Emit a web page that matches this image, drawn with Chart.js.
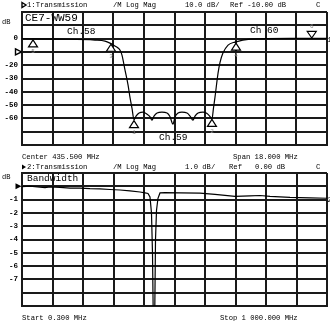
<!DOCTYPE html>
<html>
<head>
<meta charset="utf-8">
<script src="https://cdn.jsdelivr.net/npm/chart.js@4.4.1/dist/chart.umd.min.js"></script>
<style>
  html, body { margin: 0; padding: 0; background: #fff; }
  #wrap { position: relative; width: 330px; height: 321px; overflow: hidden; font-family: 'Liberation Mono', monospace; color: #000; }
  canvas { position: absolute; left: 0; }
  .t { position: absolute; font-size: 7.2px; line-height: 8px; white-space: pre; }
  .big { font-size: 9.5px; line-height: 10px; }
</style>
</head>
<body>
<div id="wrap">
  <canvas id="top" width="330" height="160" style="top:0"></canvas>
  <canvas id="bot" width="330" height="161" style="top:160px"></canvas>

  <div class="t" style="left:27px;top:1px">1:Transmission</div>
  <div class="t" style="left:113px;top:1px">/M Log Mag</div>
  <div class="t" style="left:185px;top:1px">10.0 dB/</div>
  <div class="t" style="left:230px;top:1px">Ref -10.00 dB</div>
  <div class="t" style="left:316px;top:1px">C</div>
  <div class="t" style="left:22px;top:153px">Center 435.500 MHz</div>
  <div class="t" style="left:233px;top:153px">Span 18.000 MHz</div>

  <div class="t big" style="left:25px;top:12px;font-size:11px;line-height:12px">CE7-WW59</div>
  <div class="t big" style="left:67px;top:27px">Ch.58</div>
  <div class="t big" style="left:250px;top:26px">Ch 60</div>
  <div class="t big" style="left:159px;top:133px">Ch.59</div>

  <div class="t" style="left:27px;top:163px">2:Transmission</div>
  <div class="t" style="left:113px;top:163px">/M Log Mag</div>
  <div class="t" style="left:185px;top:163px">1.0 dB/</div>
  <div class="t" style="left:229px;top:163px">Ref   0.00 dB</div>
  <div class="t" style="left:316px;top:163px">C</div>
  <div class="t big" style="left:27px;top:174px">Bandwidth</div>
  <div class="t" style="left:22px;top:314px">Start 0.300 MHz</div>
  <div class="t" style="left:220px;top:314px">Stop 1 000.000 MHz</div>
</div>

<script>
// channel 1: filter response around Ch.59 (MHz, dB)
const topFreq = [426.50, 428.74, 430.81, 431.40, 431.69, 431.99, 432.17, 432.28, 432.40, 432.58,
  432.76, 432.87, 432.99, 433.11, 433.23, 433.41, 433.64, 433.88, 434.05, 434.17,
  434.29, 434.47, 434.76, 435.06, 435.23, 435.41, 435.53, 435.71, 435.94, 436.24,
  436.42, 436.59, 436.71, 436.89, 437.18, 437.42, 437.60, 437.71, 437.80, 437.89,
  438.07, 438.19, 438.36, 438.66, 439.07, 439.96, 442.32, 444.50];
const topDb = [-0.1, -0.4, -1.1, -1.9, -3.4, -5.6, -7.1, -8.6, -12.4, -23.7,
  -35, -44, -52.3, -60.9, -58.3, -56, -55.3, -56.8, -58.6, -61.3,
  -58.3, -56, -55.3, -56, -58.6, -64.3, -59, -56, -55.3, -56,
  -58.3, -61.3, -58.3, -56, -55.3, -56.3, -58.6, -60.5, -52.3, -44,
  -25.9, -17.7, -10.9, -4.9, -2.6, -0.4, 0.1, 0.1];

// channel 1 markers
const topMarkerNo = [1, 2, 3, 4, 5, 6];
const topMarkerFreq = [433.11, 437.71, 431.75, 439.13, 427.15, 443.60];
const topMarkerDb = [-60.9, -60.0, -3.5, -2.6, -0.2, 0.1];

// channel 2: wide sweep 0.3 - 1000 MHz
const botFreq = [0.3, 26.5, 59.3, 75.7, 92.1, 124.9, 157.6, 190.4, 223.2, 256.0,
  288.7, 321.5, 354.3, 387.1, 403.5, 413.3, 419.8, 424.7, 428.0, 430.6,
  433.0, 435.2, 437.9, 441.2, 446.0, 452.6, 469.0, 518.2, 583.7, 632.9,
  698.4, 747.6, 780.4, 813.1, 878.7, 944.3, 1000.0];
const botDb = [-0.03, 0.02, -0.07, -0.10, -0.05, -0.08, -0.13, -0.13, -0.18, -0.20,
  -0.24, -0.28, -0.35, -0.43, -0.50, -0.54, -0.8, -2, -5, -10,
  -30, -10, -4, -1.8, -0.9, -0.5, -0.48, -0.50, -0.52, -0.60,
  -0.76, -0.72, -0.69, -0.76, -0.84, -0.87, -0.90];

const topTickVals = [0, -20, -30, -40, -50, -60];
const botTickVals = [-1, -2, -3, -4, -5, -6, -7];

const GRID = '#1a1a1a';

function triRight(ctx, x, y, w, h, filled) {
  ctx.beginPath();
  ctx.moveTo(x, y - h / 2);
  ctx.lineTo(x + w, y);
  ctx.lineTo(x, y + h / 2);
  ctx.closePath();
  if (filled) { ctx.fillStyle = '#000'; ctx.fill(); }
  else { ctx.fillStyle = '#fff'; ctx.fill(); ctx.lineWidth = 1.4; ctx.strokeStyle = '#000'; ctx.stroke(); }
}

const overlay = {
  id: 'overlay',
  afterDraw(chart, args, o) {
    const ctx = chart.ctx, xs = chart.scales.x, ys = chart.scales.y, a = chart.chartArea;
    ctx.save();
    // header channel arrow
    triRight(ctx, 22, o.headerY, 4, 5, o.filled);
    // reference level arrow
    triRight(ctx, 15.5, ys.getPixelForValue(o.refLevel), 6, 6, o.filled);
    // dB unit label
    ctx.fillStyle = '#000';
    ctx.font = '7px "Liberation Mono"';
    ctx.textBaseline = 'middle';
    ctx.textAlign = 'left';
    ctx.fillText('dB', 2, ys.getPixelForValue(o.dbAt) - 3);
    // trace number at right edge
    const d = chart.data.datasets[0].data;
    ctx.fillText(o.traceNo, a.right + 0.5, ys.getPixelForValue(d[d.length - 1].y) + 2);
    // markers
    (o.markers || []).forEach(m => {
      const px = xs.getPixelForValue(m.f), py = ys.getPixelForValue(m.db);
      const down = m.n === 6;
      ctx.beginPath();
      if (down) {
        ctx.moveTo(px, py - 0.5); ctx.lineTo(px - 4.5, py - 7); ctx.lineTo(px + 4.5, py - 7);
      } else {
        ctx.moveTo(px, py + 1); ctx.lineTo(px - 4.5, py + 8); ctx.lineTo(px + 4.5, py + 8);
      }
      ctx.closePath();
      ctx.fillStyle = '#fff'; ctx.fill();
      ctx.lineWidth = 1.2; ctx.strokeStyle = '#000'; ctx.stroke();
      ctx.fillStyle = '#888';
      ctx.font = '6px "Liberation Mono"';
      ctx.textAlign = 'center';
      ctx.fillText(String(m.n), px, down ? py - 12 : py + 13);
    });
    ctx.restore();
  }
};

function makeChart(id, freq, db, xMin, xMax, yMin, yMax, step, tickVals, pad, smooth, ov) {
  return new Chart(document.getElementById(id), {
    type: 'line',
    data: {
      datasets: [{
        data: freq.map((f, i) => ({ x: f, y: db[i] })),
        borderColor: '#000',
        borderWidth: 1.2,
        pointRadius: 0,
        tension: smooth ? 0.4 : 0,
        cubicInterpolationMode: smooth ? 'monotone' : 'default'
      }]
    },
    options: {
      responsive: false,
      animation: false,
      layout: { padding: pad },
      plugins: { legend: { display: false }, tooltip: { enabled: false }, overlay: ov },
      scales: {
        x: {
          type: 'linear', min: xMin, max: xMax,
          ticks: { display: false },
          grid: { color: GRID, lineWidth: 2, drawTicks: false },
          border: { display: true, color: GRID, width: 2 },
          afterBuildTicks: s => { s.ticks = Array.from({ length: 11 }, (_, i) => ({ value: xMin + i * (xMax - xMin) / 10 })); },
          afterFit: s => { s.height = 0; }
        },
        y: {
          min: yMin, max: yMax,
          ticks: {
            stepSize: step, autoSkip: false, padding: 4, color: '#000',
            font: { family: 'Liberation Mono', size: 7.5, weight: 'bold' },
            callback: v => tickVals.includes(Math.round(v)) ? String(Math.round(v)) : ''
          },
          grid: { color: GRID, lineWidth: 2, drawTicks: false },
          border: { display: true, color: GRID, width: 2 },
          afterFit: s => { s.width = 22; }
        }
      }
    },
    plugins: [overlay]
  });
}

makeChart('top', topFreq, topDb, 426.5, 444.5, -80, 20, 10, topTickVals,
  { top: 12, right: 3, bottom: 15, left: 0 }, true,
  { headerY: 5, refLevel: -10, dbAt: 10, filled: false, traceNo: '1',
    markers: topMarkerNo.map((n, i) => ({ n, f: topMarkerFreq[i], db: topMarkerDb[i] })) });

makeChart('bot', botFreq, botDb, 0.3, 1000, -9, 1, 1, botTickVals,
  { top: 13, right: 3, bottom: 15, left: 0 }, false,
  { headerY: 7, refLevel: 0, dbAt: 0.5, filled: true, traceNo: '2', markers: [] });
</script>
</body>
</html>
